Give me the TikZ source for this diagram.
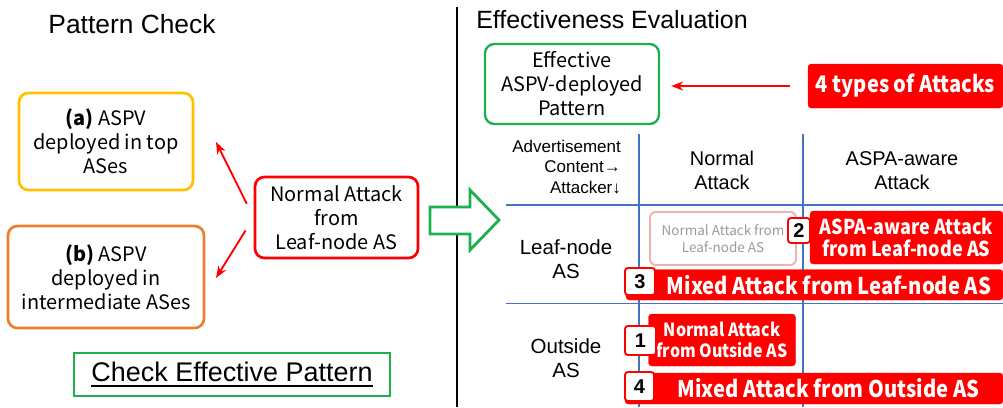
\documentclass[tikz,border=0pt]{standalone}
\usepackage{fontspec}
\setmainfont{Liberation Sans}
\newfontfamily\jpfont{Noto Sans CJK JP}
\newfontfamily\jpnarrow[FakeStretch=0.88]{Noto Sans CJK JP}
\usepackage{tikz}
\usetikzlibrary{arrows.meta, positioning}
\usepackage{xcolor}

\definecolor{boxyellow}{HTML}{FFC000}
\definecolor{boxorange}{HTML}{ED7D31}
\definecolor{okgreen}{HTML}{1FB04E}
\definecolor{attackred}{HTML}{FF0000}
\definecolor{tableblue}{HTML}{4472C4}
\definecolor{fadedpink}{HTML}{F4AFAF}
\definecolor{fadedtext}{HTML}{9A9A9A}

\newcommand{\thickul}[1]{\setbox0\hbox{#1}\leavevmode\rlap{\rule[-4.5pt]{\wd0}{1.7pt}}\box0}

\begin{document}
\begin{tikzpicture}[
    x=0.03cm, y=-0.03cm,
    >=Stealth,
    titletext/.style={font=\fontsize{22}{26}\selectfont, anchor=base},
    patbox/.style={draw, line width=2.3pt, rounded corners=8pt, align=center, inner sep=0pt,
        font=\jpfont\fontsize{17}{20.5}\selectfont},
    redarrow/.style={->, draw=attackred, line width=1.6pt},
    hdtext/.style={align=center, font=\fontsize{17}{20.5}\selectfont},
    redbar/.style={fill=attackred, draw=attackred, rounded corners=3pt, text=white, align=center,
        inner sep=0pt, font=\jpnarrow\bfseries\fontsize{19.6}{22}\selectfont},
    badge/.style={fill=white, draw=attackred, line width=1.6pt, rounded corners=2.5pt, inner sep=0pt,
        font=\bfseries\fontsize{17}{18}\selectfont},
    tableline/.style={draw=tableblue, line width=1pt}
]
\useasboundingbox (0,0) rectangle (1003,407);

% left half: pattern check
\node[titletext, font=\fontsize{22.5}{26}\selectfont] (pcheck) at (132,33) {Pattern Check};
\node[patbox, draw=boxyellow, minimum width=5.22cm, minimum height=2.91cm] (boxa) at (106,141.5)
    {\textbf{(a)} ASPV\\deployed in top\\ASes};
\node[patbox, draw=boxorange, minimum width=5.88cm, minimum height=3.06cm] (boxb) at (106,277)
    {\textbf{(b)} ASPV\\deployed in\\intermediate ASes};
\node[patbox, draw=attackred, minimum width=4.89cm, minimum height=2.43cm] (nattack) at (336.5,217.5)
    {Normal Attack\\from\\Leaf-node AS};

\coordinate (tipa) at (216,142);
\coordinate (tipb) at (216,278);
\draw[redarrow, shorten <=0.46cm] (nattack.west) -- (tipa);
\draw[redarrow, shorten <=0.46cm] (nattack.west) -- (tipb);

\node[draw=okgreen, line width=2pt, minimum width=9.48cm, minimum height=1.29cm,
    font=\fontsize{23}{26}\selectfont] (checkbox) at (232,374.5) {\thickul{Check Effective Pattern}};

% divider and hollow arrow
\coordinate (divtop) at (457,7);
\coordinate (divbot) at (457,407);
\draw[line width=1pt] (divtop) -- (divbot);
\draw[okgreen, line width=2.4pt, fill=white, line join=miter]
    (430,207) -- (470,207) -- (470,190) -- (499,220) -- (470,250) -- (470,234) -- (430,234) -- cycle;

% right half: effectiveness evaluation
\node[titletext, font=\fontsize{21.3}{26}\selectfont] (eeval) at (612,28) {Effectiveness Evaluation};
\node[patbox, draw=okgreen, line width=2pt, minimum width=5.22cm, minimum height=2.4cm] (effbox) at (572,84)
    {Effective\\ASPV-deployed\\Pattern};
\node[redbar, minimum width=5.85cm, minimum height=1.32cm, font=\jpnarrow\bfseries\fontsize{19.5}{22}\selectfont]
    (fourtypes) at (905.5,86) {4 types of Attacks};
\draw[redarrow, shorten <=0.54cm, shorten >=0.33cm] (fourtypes.west) -- (fourtypes.west -| effbox.east);

% table grid
\draw[tableline] (506,205) -- (1003,205);
\draw[tableline] (506,303.5) -- (1003,303.5);
\draw[tableline] (639,134) -- (639,407);
\draw[tableline] (803,134) -- (803,407);

\node[align=right, anchor=east, font=\fontsize{14.5}{17.5}\selectfont] (hdcorner) at (625,167)
    {Advertisement\\Content→\\Attacker↓};
\node[hdtext] (hdnormal) at (722,170.5) {Normal\\Attack};
\node[hdtext] (hdaspa) at (902,170.5) {ASPA-aware\\Attack};
\node[hdtext, font=\fontsize{17.5}{21}\selectfont] (rowleaf) at (566,259) {Leaf-node\\AS};
\node[hdtext, font=\fontsize{17.5}{21}\selectfont] (rowout) at (566,358) {Outside\\AS};

% attack cells
\node[draw=fadedpink, line width=1.6pt, rounded corners=5pt, text=fadedtext, align=center,
    minimum width=4.38cm, minimum height=1.59cm, inner sep=0pt,
    font=\jpfont\fontsize{11.5}{14.5}\selectfont] (fadedcell) at (723,238.5)
    {Normal Attack from\\Leaf-node AS};
\node[redbar, minimum width=5.79cm, minimum height=1.59cm, font=\jpnarrow\bfseries\fontsize{17.5}{19}\selectfont]
    (aspaleaf) at (906.5,237.5) {ASPA-aware Attack\\from Leaf-node AS};
\node[badge, minimum width=0.66cm, minimum height=0.75cm] (badgetwo) at (799,230.5) {2};

\node[redbar, minimum width=11.31cm, minimum height=0.915cm] (mixleaf) at (814.5,284.75)
    {\hspace*{0.87cm}Mixed Attack from Leaf-node AS};
\node[badge, minimum width=0.9cm, minimum height=0.81cm] (badgethree) at (640,281.5) {3};

\node[redbar, minimum width=4.41cm, minimum height=1.56cm, font=\jpnarrow\bfseries\fontsize{15.5}{17.5}\selectfont]
    (normout) at (722,340) {Normal Attack\\from Outside AS};
\node[badge, minimum width=0.93cm, minimum height=0.87cm] (badgeone) at (640.5,340.5) {1};

\node[redbar, minimum width=11.34cm, minimum height=0.93cm] (mixout) at (814,388.5)
    {\hspace*{0.87cm}Mixed Attack from Outside AS};
\node[badge, minimum width=0.87cm, minimum height=0.87cm] (badgefour) at (639.5,386.5) {4};

\end{tikzpicture}
\end{document}
